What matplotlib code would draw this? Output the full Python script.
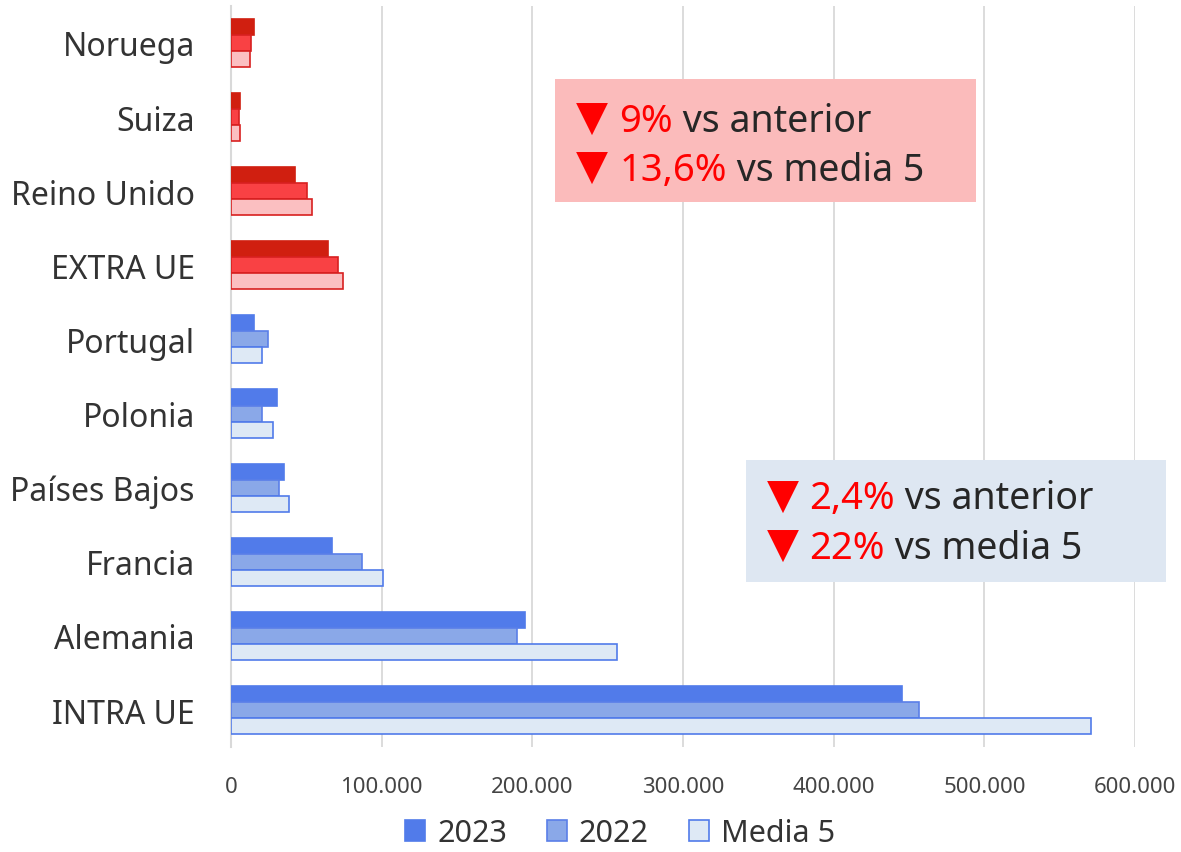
import matplotlib.pyplot as plt
import numpy as np

plt.rcParams['font.family'] = ['Noto Sans', 'DejaVu Sans']

# datos (de abajo arriba)
categories = ["INTRA UE", "Alemania", "Francia", "Países Bajos", "Polonia",
              "Portugal", "EXTRA UE", "Reino Unido", "Suiza", "Noruega"]
v2023 = [445000, 195300, 67000, 35100, 30500, 15200, 64300, 42400, 6000, 15200]
v2022 = [456500, 189600, 86900, 31800, 20600, 24500, 71000, 50400, 5300, 13300]
media5 = [570800, 256000, 100800, 38500, 27800, 20600, 74300, 53700, 6000, 12600]
is_extra = [False] * 6 + [True] * 4
series_labels = ["2023", "2022", "Media 5"]
xticks = [0, 100000, 200000, 300000, 400000, 500000, 600000]

blue = {"fill": ["#517BEA", "#8AA8E8", "#DEE9F5"], "edge": ["#517BEA", "#5A7FE8", "#517BEA"]}
red = {"fill": ["#D01F10", "#F94144", "#FBBFC1"], "edge": ["#D01F10", "#D82020", "#D82020"]}

fig = plt.figure(figsize=(11.81, 8.53), dpi=100)
ax = fig.add_axes([0.1956, 0.123, 0.9612 - 0.1956, 0.992 - 0.123])

y = np.arange(len(categories))
h = 0.216
offsets = [h, 0, -h]
for i, vals in enumerate([v2023, v2022, media5]):
    fills = [red["fill"][i] if e else blue["fill"][i] for e in is_extra]
    edges = [red["edge"][i] if e else blue["edge"][i] for e in is_extra]
    ax.barh(y + offsets[i], vals, height=h, color=fills, edgecolor=edges,
            linewidth=1.2, zorder=3)

ax.set_xlim(0, 600000)
ax.set_ylim(-0.5, len(categories) - 0.5)
ax.set_yticks(y)
ax.set_yticklabels(categories, fontsize=23, color="#333333")
ax.set_xticks(xticks)
ax.set_xticklabels(["0" if t == 0 else f"{t:,}".replace(",", ".") for t in xticks],
                   fontsize=16, color="#444444")
ax.tick_params(length=0)
ax.tick_params(axis='y', pad=26)
ax.tick_params(axis='x', pad=21)
ax.grid(axis='x', color="#D9D9D9", linewidth=1.3, zorder=0)
for s in ["top", "right", "bottom"]:
    ax.spines[s].set_visible(False)
ax.spines["left"].set_color("#D9D9D9")
ax.spines["left"].set_linewidth(1.5)

# leyenda
handles = [plt.Rectangle((0, 0), 1, 1, facecolor=blue["fill"][i], edgecolor=blue["edge"][i], linewidth=1.2)
           for i in range(3)]
fig.legend(handles, series_labels, loc="center", bbox_to_anchor=(0.525, 0.022), ncol=3,
           frameon=False, fontsize=22, handlelength=0.65, handleheight=0.65,
           handletextpad=0.4, columnspacing=1.3, labelcolor="#333333")


# cuadros de texto
def info_box(x0, y0, w, hgt, color, lines, tx, ty):
    fig.add_artist(plt.Rectangle((x0, y0), w, hgt, transform=fig.transFigure,
                                 facecolor=color, edgecolor="none", zorder=5))
    for k, (pct, rest) in enumerate(lines):
        tri = fig.text(tx, ty - k * 0.058, "▼", color="#FF0000", fontsize=30,
                       va="baseline", zorder=6)
        t1 = fig.add_artist(plt.Annotation(pct, xy=(1, 0), xycoords=tri, va="bottom",
                                           xytext=(8, 0), textcoords="offset points",
                                           fontsize=27.5, color="#FF0000", zorder=6))
        fig.add_artist(plt.Annotation(" " + rest, xy=(1, 0), xycoords=t1, va="bottom",
                                      fontsize=27, color="#262626", zorder=6))


info_box(0.470, 0.762, 0.356, 0.144, "#FBBBBB",
         [("9%", "vs anterior"), ("13,6%", "vs media 5")], 0.488, 0.847)
info_box(0.632, 0.317, 0.355, 0.143, "#DEE7F2",
         [("2,4%", "vs anterior"), ("22%", "vs media 5")], 0.649, 0.404)

fig.savefig("out.png", dpi=100)
